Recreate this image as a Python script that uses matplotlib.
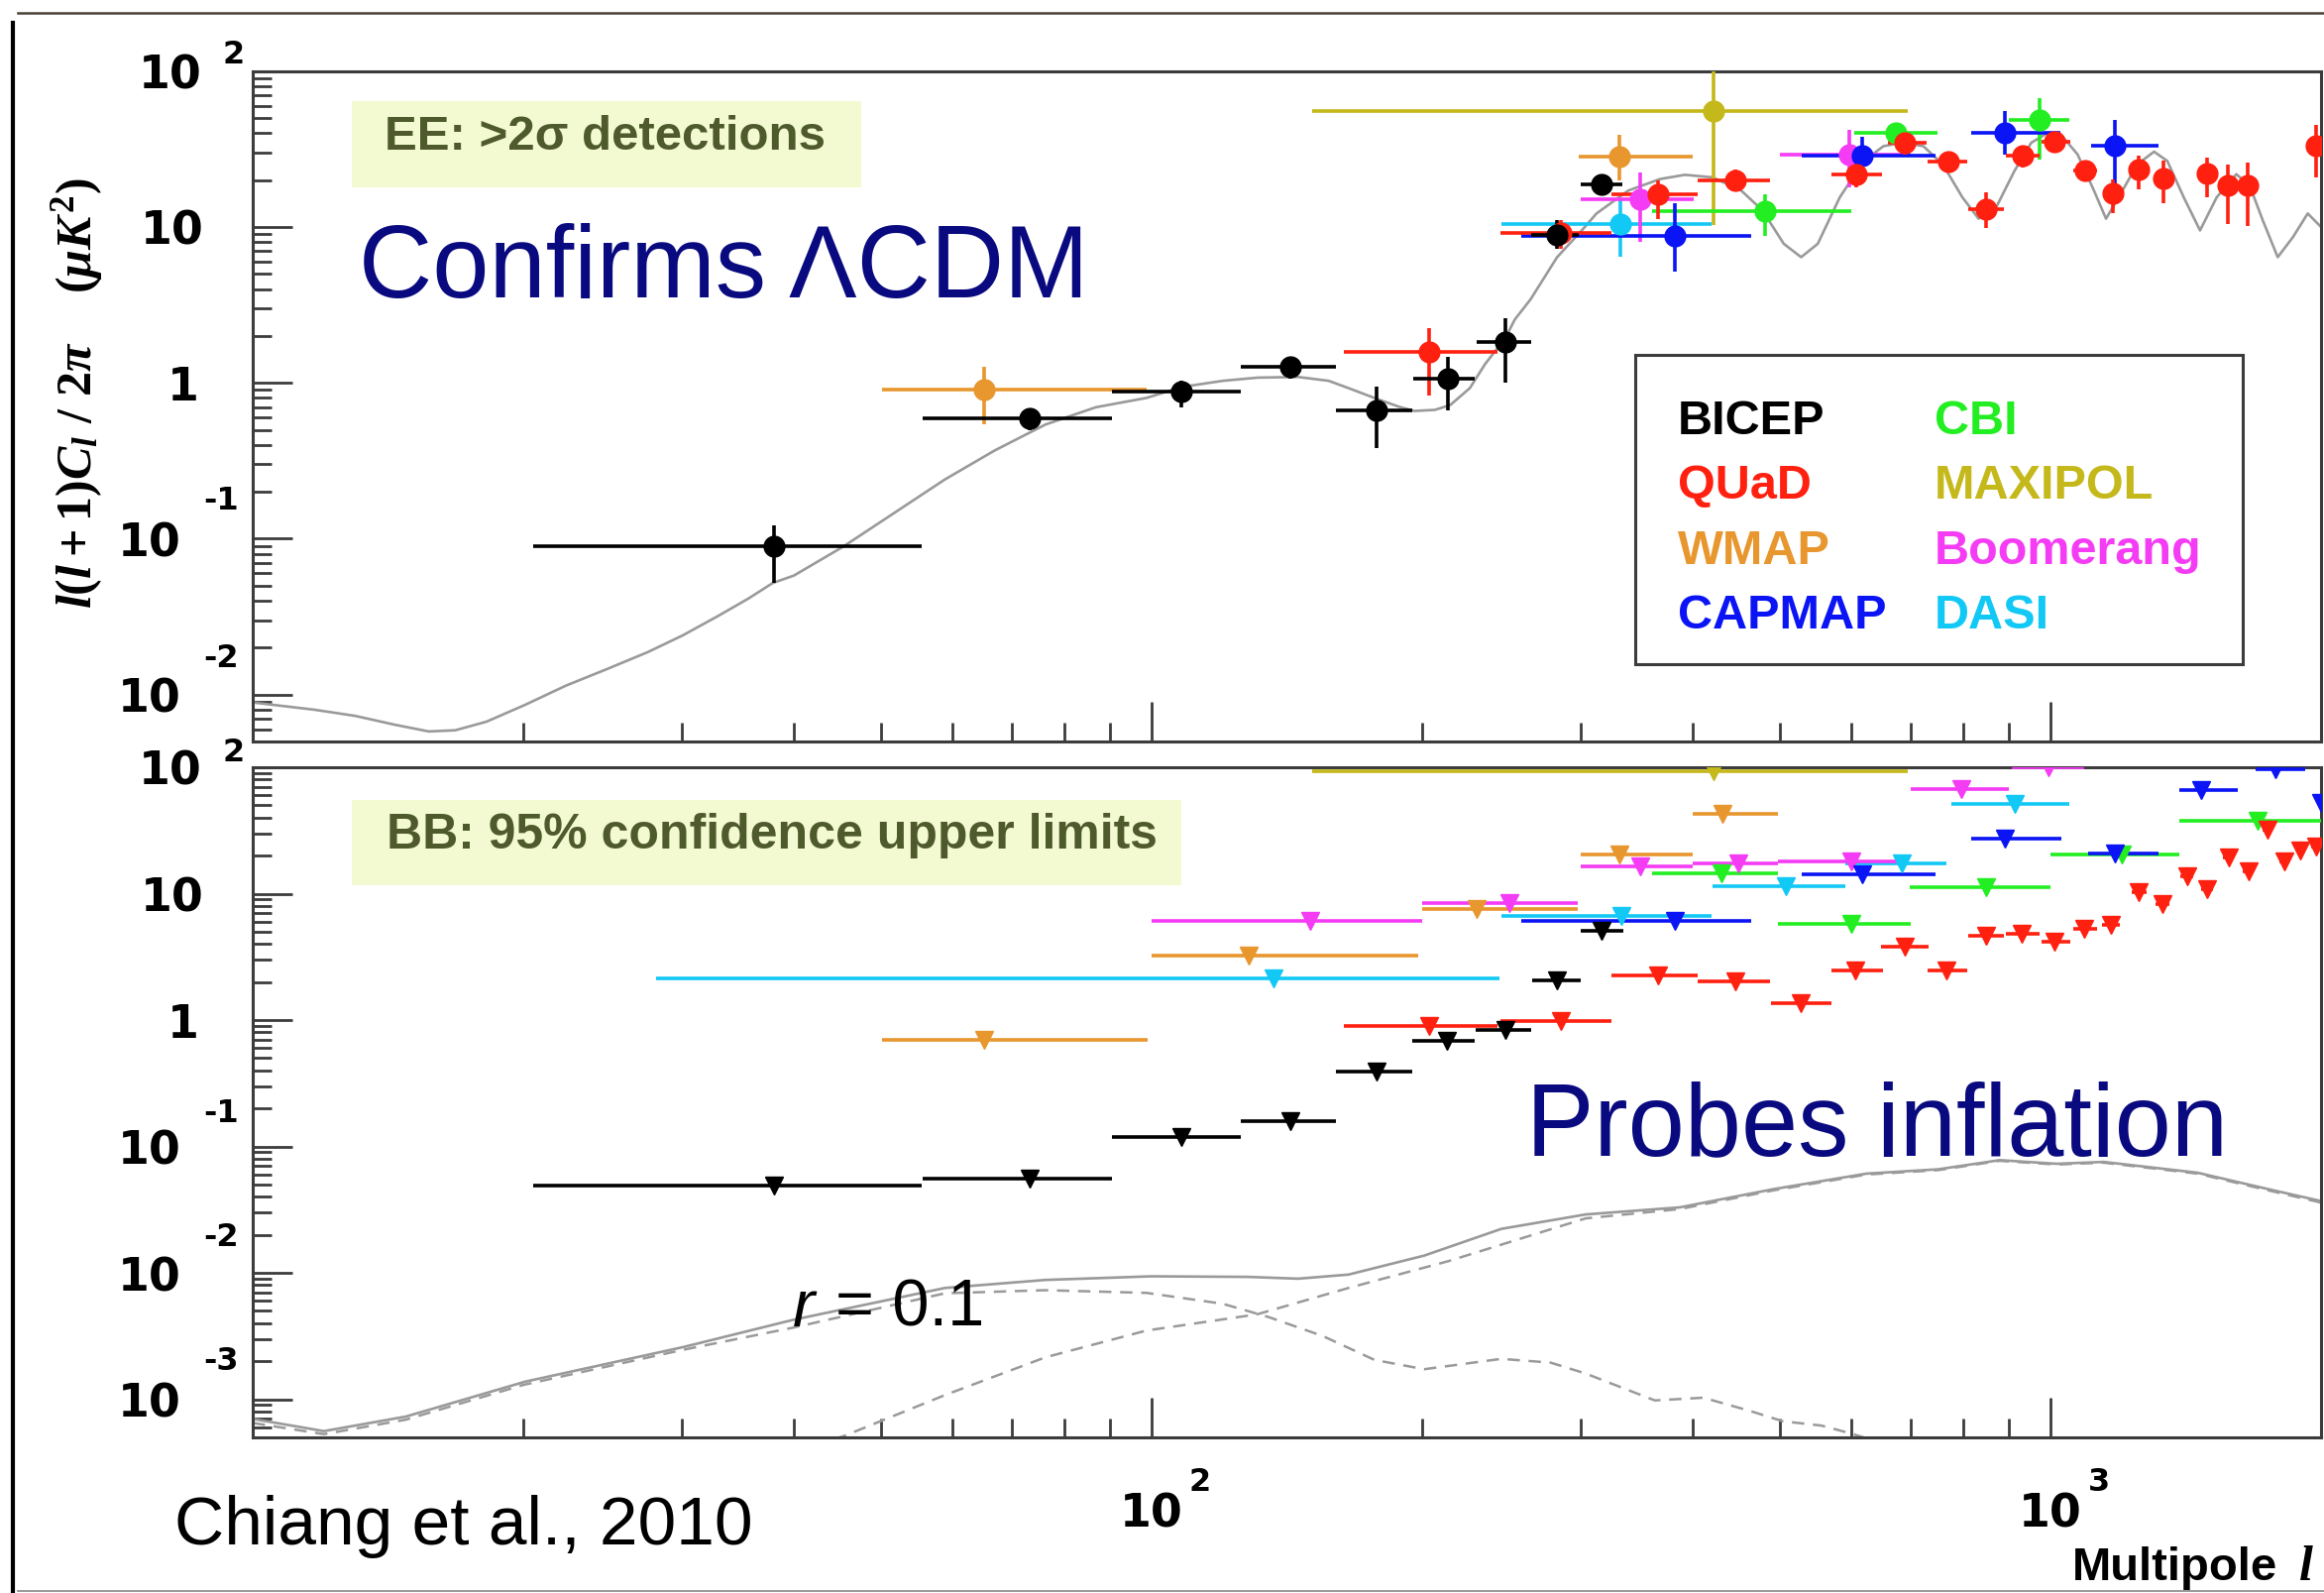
import matplotlib
matplotlib.use("Agg")
import matplotlib.pyplot as plt
from matplotlib.lines import Line2D
from matplotlib.patches import Rectangle
from matplotlib.ticker import LogLocator, NullFormatter

W, H, DPI = 2345, 1608, 100

plt.rcParams['font.family'] = ['Liberation Sans', 'DejaVu Sans']
plt.rcParams['mathtext.fontset'] = 'custom'
plt.rcParams['mathtext.rm'] = 'Liberation Serif:bold'
plt.rcParams['mathtext.it'] = 'Liberation Serif:italic:bold'
plt.rcParams['mathtext.bf'] = 'Liberation Serif:bold'

# EE model spectrum, l(l+1)C_l/2pi in uK^2
EE_THEORY_ELL = [10.0, 11.7, 13.0, 14.4, 15.7, 16.8, 18.2, 20.1, 22.3, 24.8, 27.5, 30.1,
                 32.9, 35.6, 37.9, 40, 45.4, 51.7, 58.9, 66.9, 76.2, 86.7, 98.7, 108, 120,
                 131.3, 145.6, 157.4, 165.6, 179, 188.8, 196, 206.5, 214.9, 226, 235, 247.5,
                 253.6, 264, 282.6, 301, 312.6, 339, 368, 392, 421, 453, 478, 505, 528,
                 551, 583, 620, 652, 686, 722, 759, 798, 832, 867, 912, 952, 994, 1027,
                 1072, 1118, 1153, 1197, 1249, 1304, 1349, 1407, 1467, 1531, 1610, 1666,
                 1723, 1790, 1861, 1933, 2000]
EE_THEORY_DL = [0.0089, 0.0080, 0.0073, 0.0064, 0.0058, 0.0059, 0.0067, 0.0086, 0.0114,
                0.0146, 0.0187, 0.024, 0.0318, 0.0413, 0.052, 0.058, 0.089, 0.146, 0.24,
                0.368, 0.54, 0.697, 0.80, 0.94, 1.03, 1.08, 1.09, 1.03, 0.925, 0.78, 0.70,
                0.66, 0.67, 0.72, 0.925, 1.32, 1.94, 2.55, 3.43, 6.4, 9.5, 12.2, 17.1,
                20.3, 21.6, 20.8, 17.1, 12.8, 7.8, 6.4, 7.8, 15.5, 26.5, 33, 34.7, 33,
                25.2, 15.5, 11.3, 12.8, 22.9, 34.7, 40.2, 39.2, 29.2, 17.1, 11.3, 16.3,
                25.2, 30.4, 26.5, 15.5, 9.5, 15.5, 21.8, 18.4, 11.0, 6.4, 8.6, 12.2, 10.0]

# BB model: total, lensing and r = 0.1 tensor part
BB_TOTAL_ELL = [10, 12, 14.8, 20.1, 30.2, 39.9, 58.9, 76.2, 100, 128, 145.6, 165.6, 201,
                245, 304, 387, 492, 624, 750, 878, 1016, 1146, 1458, 1747, 2000]
BB_TOTAL_DL = [7.0e-4, 5.6e-4, 7.3e-4, 1.38e-3, 2.6e-3, 4.25e-3, 7.6e-3, 8.8e-3, 9.4e-3,
               9.3e-3, 9.0e-3, 9.7e-3, 0.0137, 0.0223, 0.029, 0.033, 0.046, 0.061, 0.066,
               0.078, 0.073, 0.0755, 0.062, 0.046, 0.037]
BB_LENS_ELL = [40, 45.4, 58.9, 76.2, 98.7, 131, 165.6, 214, 304, 387, 492, 624, 750, 878,
               1016, 1146, 1458, 1747, 2000]
BB_LENS_DL = [3.9e-4, 5.1e-4, 1.08e-3, 2.15e-3, 3.5e-3, 4.7e-3, 7.6e-3, 0.0124, 0.027,
              0.032, 0.045, 0.060, 0.065, 0.077, 0.072, 0.0745, 0.061, 0.045, 0.036]
BB_TENSOR_ELL = [10, 12, 14.8, 20, 30, 40, 58.9, 76.2, 98.7, 120, 135, 155, 177, 201, 245,
                 278, 304, 363, 411, 463, 504, 556, 598, 650]
BB_TENSOR_DL = [6.5e-4, 5.3e-4, 6.9e-4, 1.3e-3, 2.45e-3, 3.7e-3, 6.9e-3, 7.3e-3, 6.95e-3,
                5.7e-3, 4.47e-3, 3.17e-3, 2.05e-3, 1.73e-3, 2.09e-3, 1.95e-3, 1.6e-3,
                9.8e-4, 1.03e-3, 8.1e-4, 6.7e-4, 6.2e-4, 5.4e-4, 4.5e-4]

# EE detections: (ell, ell_lo, ell_hi, value, value_lo, value_hi)
EE_BICEP = [(38.0, 20.5, 55.5, 0.089, 0.052, 0.122), (73.1, 55.7, 90.3, 0.596, 0.50, 0.68),
            (108, 90.3, 125.7, 0.875, 0.70, 1.03), (142.8, 125.7, 160.5, 1.27, 1.07, 1.45),
            (178, 160.5, 195, 0.67, 0.38, 0.94), (213.7, 195.5, 228.7, 1.06, 0.67, 1.46),
            (247.7, 229.7, 264.4, 1.82, 1.0, 2.6), (282.6, 264.7, 298.8, 8.85, 7.2, 11.0),
            (316.5, 300, 334, 18.7, 16.0, 20.5)]
EE_QUAD = [(203.6, 163.6, 242.4, 1.57, 0.83, 2.25), (285, 244.5, 325, 9.2, 7.2, 11.0),
           (365.6, 325, 405, 16.3, 11.3, 19.8), (446.5, 405, 487, 19.8, 17.2, 23.5),
           (608, 571, 649, 21.6, 18, 25), (689, 659, 728, 34.7, 29, 40),
           (769, 730, 807, 26.3, 22.5, 30), (849, 811, 888, 13.1, 9.8, 16.6),
           (932, 893, 972, 28.6, 24, 33), (1011, 977, 1051, 35.2, 30, 41),
           (1092, 1059, 1127, 22.9, 19.5, 26.5), (1173, 1150, 1196, 16.5, 12.2, 20.3),
           (1255, 1240, 1270, 23.5, 17.5, 28.6), (1335, 1320, 1350, 20.6, 14.1, 26.5),
           (1495, 1480, 1510, 22.1, 15.5, 27.9), (1576, 1560, 1592, 18.4, 10.5, 25.3),
           (1658, 1640, 1676, 18.4, 10.2, 26.0), (1974, 1950, 2000, 33.1, 20.8, 45.4)]
EE_WMAP = [(65.1, 50.1, 98.8, 0.91, 0.54, 1.27), (331.7, 299, 400, 28.2, 19.8, 38.8)]
EE_MAXIPOL = [(421.5, 151, 693, 55.2, 10.3, 200)]
EE_BOOMERANG = [(349.7, 300, 401, 15.1, 8.05, 22.4), (598, 500, 700, 29.3, 18, 42)]
EE_CAPMAP = [(382, 258, 465, 8.77, 5.17, 14.1), (618, 529, 745, 28.8, 22.3, 38),
             (889, 816, 1027, 40.2, 29.2, 55.4), (1180, 1110, 1320, 33, 18.4, 48.8)]
EE_CBI = [(481, 360.6, 600, 12.6, 8.7, 16.3), (673, 605, 749, 40.2, 36, 44),
          (973, 899, 1049, 48.9, 27.2, 67)]
EE_DASI = [(332.6, 245, 420, 10.4, 6.44, 14.8)]

# BB 95% upper limits: (ell, ell_lo, ell_hi, limit)
BB_BICEP = [(38.0, 20.5, 55.5, 0.0488), (73.1, 55.7, 90.3, 0.056), (108, 90.3, 125.7, 0.119),
            (142.8, 125.7, 160.5, 0.16), (178, 160.5, 195, 0.388), (213, 195, 229, 0.68),
            (247.6, 229.5, 264.6, 0.84), (282.3, 265, 300, 2.07), (316.5, 300, 334.5, 5.1)]
BB_QUAD = [(203.4, 163.6, 242.4, 0.89), (285, 244.5, 325, 0.977), (365.6, 325, 405, 2.27),
           (446, 405, 487, 2.01), (527, 489, 570, 1.36), (607, 571, 651, 2.48),
           (688, 648, 732, 3.78), (767, 730, 808, 2.48), (847, 811, 888, 4.67),
           (930, 893, 972, 4.81), (1011, 977, 1051, 4.13), (1090, 1059, 1127, 5.26),
           (1168, 1140, 1196, 5.69), (1255, 1230, 1280, 10.3), (1333, 1310, 1356, 8.26),
           (1418, 1395, 1440, 13.8), (1495, 1472, 1518, 10.8), (1578, 1555, 1600, 19.4),
           (1660, 1637, 1683, 14.9), (1742, 1720, 1765, 31.9), (1820, 1800, 1840, 18.0),
           (1895, 1875, 1915, 21.9), (1973, 1950, 1995, 23.7)]
BB_WMAP = [(65.1, 50.1, 99, 0.697), (128.2, 100, 198, 3.25), (230, 200, 298, 7.55),
           (331.7, 300, 400, 20.3), (432, 400, 498, 43)]
BB_MAXIPOL = [(421.5, 151, 693, 92.5)]
BB_BOOMERANG = [(150, 100, 200, 6.1), (250, 200, 298, 8.5), (350, 300, 400, 16.5),
                (449, 400, 498, 17.5), (601, 498, 688, 18.0), (795, 700, 900, 67.7),
                (996, 905, 1090, 100)]
BB_CAPMAP = [(382, 258, 465, 6.1), (618, 529, 745, 14.2), (889, 816, 1029, 27.2),
             (1181, 1100, 1320, 20.6), (1472, 1390, 1615, 65.7), (1780, 1690, 1920, 96),
             (2000, 1980, 2100, 52)]
BB_CBI = [(430, 360.6, 498, 14.6), (600, 498, 700, 5.75), (847, 697, 1000, 11.3),
          (1200, 1000, 1390, 20.3), (1700, 1390, 2100, 37.6)]
BB_DASI = [(136.8, 28.1, 244, 2.14), (333, 245, 420, 6.68), (508, 421, 591, 11.5),
           (684, 592, 767, 17.5), (912, 776, 1049, 51.6)]

COLORS = {
    'BICEP': '#000000',
    'QUaD': '#ff2010',
    'WMAP': '#e8962e',
    'CAPMAP': '#0a14f5',
    'CBI': '#22ee22',
    'MAXIPOL': '#c4b81a',
    'Boomerang': '#f53cf5',
    'DASI': '#12c8f5',
}

# drawn back to front
SERIES = [('MAXIPOL', EE_MAXIPOL, BB_MAXIPOL), ('WMAP', EE_WMAP, BB_WMAP),
          ('DASI', EE_DASI, BB_DASI), ('Boomerang', EE_BOOMERANG, BB_BOOMERANG),
          ('CBI', EE_CBI, BB_CBI), ('CAPMAP', EE_CAPMAP, BB_CAPMAP),
          ('QUaD', EE_QUAD, BB_QUAD), ('BICEP', EE_BICEP, BB_BICEP)]

LEGEND_LEFT = ['BICEP', 'QUaD', 'WMAP', 'CAPMAP']
LEGEND_RIGHT = ['CBI', 'MAXIPOL', 'Boomerang', 'DASI']

THEORY_GRAY = '#9a9a9a'
FRAME_GRAY = '#3c3c3c'
NAVY = '#0a0a80'
BOX_FACE = '#f3fad2'
BOX_TEXT = '#4f5a2c'

TICK_FAMILY = 'DejaVu Sans'
BASE_SIZE, EXP_SIZE = 33, 23


def fx(px):
    return px / W


def fy(py):
    return 1 - py / H


def setup_axes(ax, ylim):
    ax.set_xscale('log')
    ax.set_yscale('log')
    ax.set_xlim(10, 2000)
    ax.set_ylim(*ylim)
    for side in ('top', 'bottom', 'left', 'right'):
        ax.spines[side].set_color(FRAME_GRAY)
        ax.spines[side].set_linewidth(2.2)
    ax.xaxis.set_major_locator(LogLocator(base=10, numticks=10))
    ax.xaxis.set_minor_locator(LogLocator(base=10, subs=range(2, 10), numticks=20))
    ax.yaxis.set_major_locator(LogLocator(base=10, numticks=10))
    ax.yaxis.set_minor_locator(LogLocator(base=10, subs=range(2, 10), numticks=20))
    for axis in (ax.xaxis, ax.yaxis):
        axis.set_major_formatter(NullFormatter())
        axis.set_minor_formatter(NullFormatter())
    ax.tick_params(which='both', direction='in', top=False, right=False,
                   color=FRAME_GRAY, width=2.0)
    ax.tick_params(which='major', length=29)
    ax.tick_params(which='minor', length=14)


def tick_text(ax, text, xy, coords, offset, ha, size):
    ax.annotate(text, xy=xy, xycoords=coords, xytext=offset, textcoords='offset pixels',
                ha=ha, va='baseline', fontsize=size, fontweight='bold', color='black',
                family=TICK_FAMILY, annotation_clip=False)


def decade_labels_y(ax, exps, rise):
    coords = ('axes fraction', 'data')
    for e in exps:
        xy = (0, 10.0 ** e)
        if e == 0:
            tick_text(ax, '1', xy, coords, (-54, -17), 'right', BASE_SIZE)
        elif e == 1:
            tick_text(ax, '10', xy, coords, (-49, -17), 'right', BASE_SIZE)
        else:
            base_dx, exp_dx = (-51, -31) if e > 0 else (-72, -50)
            tick_text(ax, '10', xy, coords, (base_dx, -17), 'right', BASE_SIZE)
            tick_text(ax, str(e), xy, coords, (exp_dx, rise[e] - 12), 'left', EXP_SIZE)


def decade_labels_x(ax, exps):
    coords = ('data', 'axes fraction')
    for e in exps:
        xy = (10.0 ** e, 0)
        tick_text(ax, '10', xy, coords, (0, -90), 'center', BASE_SIZE)
        tick_text(ax, str(e), xy, coords, (38, -53), 'left', EXP_SIZE)


def draw_detections(ax, rows, color):
    ell = [r[0] for r in rows]
    val = [r[3] for r in rows]
    xerr = [[r[0] - r[1] for r in rows], [r[2] - r[0] for r in rows]]
    yerr = [[r[3] - r[4] for r in rows], [r[5] - r[3] for r in rows]]
    ax.errorbar(ell, val, xerr=xerr, yerr=yerr, fmt='o', color=color, ms=15,
                mec=color, elinewidth=2.6, capsize=0, zorder=3)


def draw_limits(ax, rows, color):
    ell = [r[0] for r in rows]
    val = [r[3] for r in rows]
    xerr = [[r[0] - r[1] for r in rows], [r[2] - r[0] for r in rows]]
    ax.errorbar(ell, val, xerr=xerr, fmt='v', color=color, ms=13, mec=color,
                elinewidth=2.6, capsize=0, zorder=3)


fig = plt.figure(figsize=(W / DPI, H / DPI), dpi=DPI)
fig.patch.set_facecolor('white')

ax_ee = fig.add_axes([fx(255), fy(749), fx(2342) - fx(255), fy(72.7) - fy(749)])
ax_bb = fig.add_axes([fx(255), fy(1451), fx(2342) - fx(255), fy(775) - fy(1451)])
setup_axes(ax_ee, (0.005, 100))
setup_axes(ax_bb, (5e-4, 100))

# model curves
ax_ee.plot(EE_THEORY_ELL, EE_THEORY_DL, color=THEORY_GRAY, lw=1.9, zorder=2)
ax_bb.plot(BB_TOTAL_ELL, BB_TOTAL_DL, color=THEORY_GRAY, lw=1.9, zorder=2)
ax_bb.plot(BB_LENS_ELL, BB_LENS_DL, color=THEORY_GRAY, lw=1.8, ls=(0, (5, 3.5)), zorder=2)
ax_bb.plot(BB_TENSOR_ELL, BB_TENSOR_DL, color=THEORY_GRAY, lw=1.8, ls=(0, (5, 3.5)), zorder=2)

for name, ee_rows, bb_rows in SERIES:
    draw_detections(ax_ee, ee_rows, COLORS[name])
    draw_limits(ax_bb, bb_rows, COLORS[name])

decade_labels_y(ax_ee, [2, 1, 0, -1, -2], {2: 21, -1: 42, -2: 41})
decade_labels_y(ax_bb, [2, 1, 0, -1, -2, -3], {2: 19, -1: 38, -2: 40, -3: 43})
decade_labels_x(ax_bb, [2, 3])

fig.text(fx(78), fy(397), r'$l(l+1)C_l\ /\ 2\pi\ \ \ \ (\mu K^2)$', rotation=90,
         ha='center', va='center', fontsize=36)
fig.text(fx(2298), fy(1594), 'Multipole', ha='right', va='baseline', fontsize=34,
         fontweight='bold')
fig.text(fx(2320), fy(1594), 'l', ha='left', va='baseline', fontsize=36,
         family='Liberation Serif', style='italic', fontweight='bold')

# panel captions
fig.add_artist(Rectangle((fx(355), fy(190)), fx(869) - fx(355), fy(103) - fy(190),
                         transform=fig.transFigure, facecolor=BOX_FACE, edgecolor='none'))
fig.text(fx(388), fy(151), 'EE: >2\u03c3 detections', ha='left', va='baseline',
         fontsize=35.5, fontweight='bold', color=BOX_TEXT)
fig.add_artist(Rectangle((fx(355), fy(894)), fx(1192) - fx(355), fy(808) - fy(894),
                         transform=fig.transFigure, facecolor=BOX_FACE, edgecolor='none'))
fig.text(fx(390), fy(856), 'BB: 95% confidence upper limits', ha='left', va='baseline',
         fontsize=36, fontweight='bold', color=BOX_TEXT)

fig.text(fx(362), fy(300), 'Confirms \u039bCDM', ha='left', va='baseline', fontsize=74,
         color=NAVY)
fig.text(fx(1540), fy(1165), 'Probes inflation', ha='left', va='baseline', fontsize=74,
         color=NAVY)
fig.text(fx(800), fy(1338), 'r', ha='left', va='baseline', fontsize=48, style='italic',
         color='black')
fig.text(fx(843), fy(1338), '= 0.1', ha='left', va='baseline', fontsize=48, color='black')
fig.text(fx(176), fy(1558), 'Chiang et al., 2010', ha='left', va='baseline', fontsize=50,
         color='black')

# experiment key
fig.add_artist(Rectangle((fx(1650), fy(671)), fx(2263) - fx(1650), fy(359) - fy(671),
                         transform=fig.transFigure, facecolor='white',
                         edgecolor=FRAME_GRAY, lw=2.2))
for row, (left, right) in enumerate(zip(LEGEND_LEFT, LEGEND_RIGHT)):
    y = fy(438 + row * 65.3)
    fig.text(fx(1693), y, left, ha='left', va='baseline', fontsize=35, fontweight='bold',
             color=COLORS[left])
    fig.text(fx(1952), y, right, ha='left', va='baseline', fontsize=35, fontweight='bold',
             color=COLORS[right])

# slide border
fig.add_artist(Line2D([fx(18), 1], [fy(13.6), fy(13.6)], transform=fig.transFigure,
                      color='#4a4038', lw=1.8))
fig.add_artist(Line2D([fx(13), fx(13)], [0, fy(24)], transform=fig.transFigure,
                      color='black', lw=3))
fig.add_artist(Line2D([fx(18), 1], [fy(1606), fy(1606)], transform=fig.transFigure,
                      color='#888888', lw=1.2))

fig.savefig('out.png', dpi=DPI)
